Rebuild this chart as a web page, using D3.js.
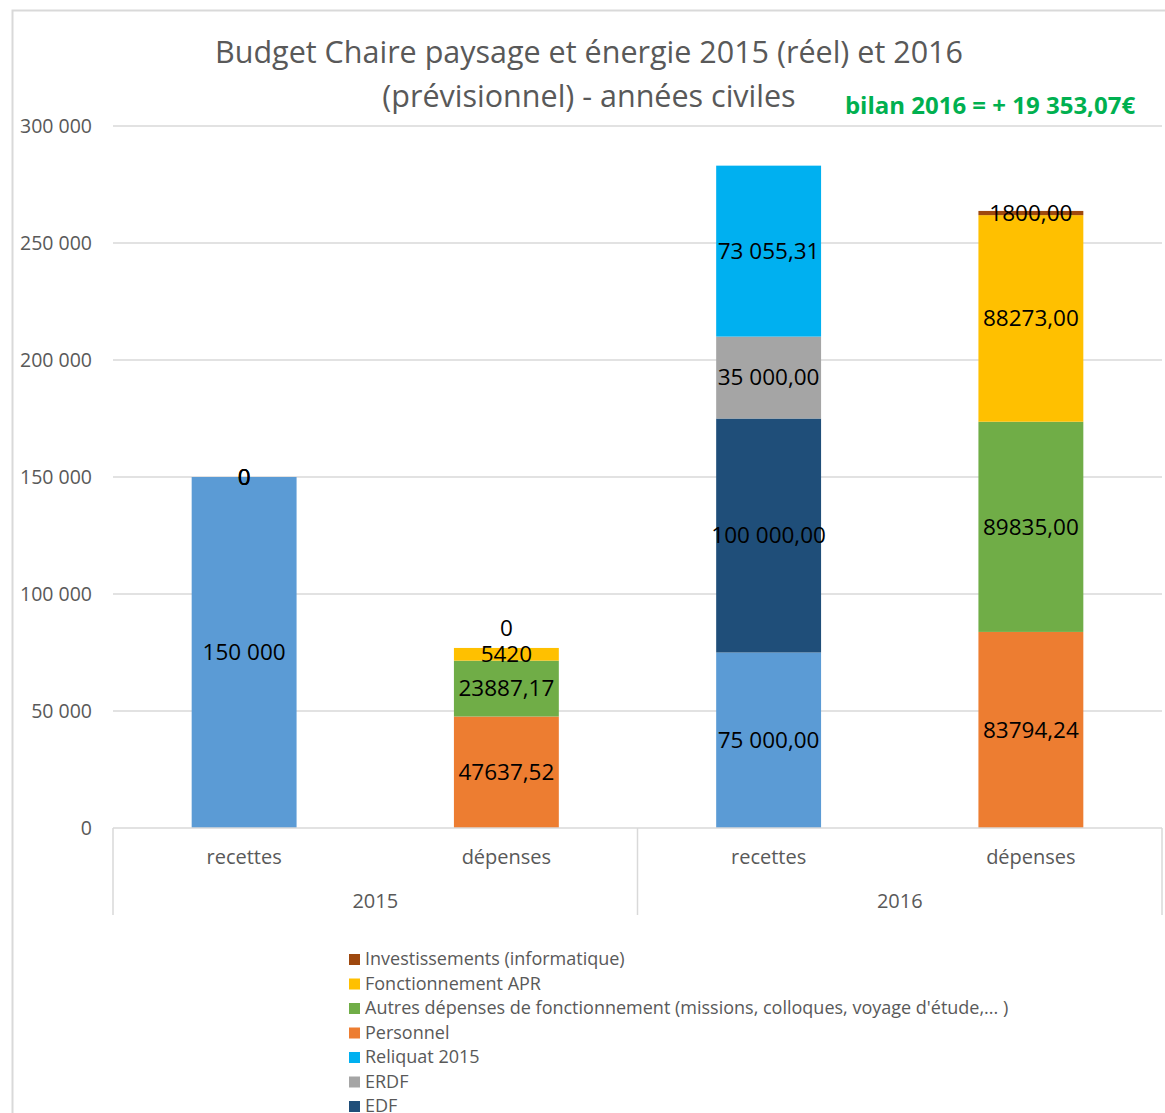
<!DOCTYPE html>
<html>
<head>
<meta charset="utf-8">
<script src="https://cdn.jsdelivr.net/npm/d3@7"></script>
<style>
  body { margin: 0; background: #fff; }
  svg { font-family: "Open Sans", Lato, sans-serif; }
</style>
</head>
<body>
<svg width="1165" height="1113"></svg>
<script>
// categories (two-level axis)
const columns = ["recettes", "dépenses", "recettes", "dépenses"];
const years = ["2015", "2016"];
const columnYear = ["2015", "2015", "2016", "2016"];

// series, bottom to top of the stack; one value per column
const seriesNames = [
  "Ministère",
  "EDF",
  "ERDF",
  "Reliquat 2015",
  "Personnel",
  "Autres dépenses de fonctionnement (missions, colloques, voyage d'étude,... )",
  "Fonctionnement APR",
  "Investissements (informatique)"
];
const seriesColors = ["#5B9BD5", "#1F4E79", "#A5A5A5", "#00B0F0", "#ED7D31", "#70AD47", "#FFC000", "#9E480E"];
const ministere = [150000, null, 75000, null];
const edf = [0, null, 100000, null];
const erdf = [0, null, 35000, null];
const reliquat = [0, null, 73055.31, null];
const personnel = [null, 47637.52, null, 83794.24];
const autres = [null, 23887.17, null, 89835];
const fonctionnementAPR = [null, 5420, null, 88273];
const investissements = [null, 0, null, 1800];
const seriesValues = [ministere, edf, erdf, reliquat, personnel, autres, fonctionnementAPR, investissements];

const yTicks = [0, 50000, 100000, 150000, 200000, 250000, 300000];
const titleLines = ["Budget Chaire paysage et énergie 2015 (réel) et 2016", "(prévisionnel) - années civiles"];
const bilanText = "bilan 2016 = + 19 353,07€";

const svg = d3.select("svg");
const grey = "#595959";
const margin = { top: 126, left: 113, right: 3, bottom: 285 };
const width = +svg.attr("width");
const height = +svg.attr("height");

const fr = d3.formatLocale({ decimal: ",", thousands: " ", grouping: [3], currency: ["", "€"] });
// number formats of the data labels, one per column
const labelFormats = [
  fr.format(",.0f"),
  v => Number.isInteger(v) ? fr.format(".0f")(v) : fr.format(".2f")(v),
  fr.format(",.2f"),
  fr.format(".2f")
];

// chart frame
svg.append("rect")
  .attr("x", 12.5).attr("y", 10.5)
  .attr("width", width).attr("height", height)
  .attr("fill", "none").attr("stroke", "#D9D9D9").attr("stroke-width", 2);

const x = d3.scaleBand()
  .domain(d3.range(columns.length))
  .range([margin.left, width - margin.right])
  .paddingInner(0.6).paddingOuter(0.3);
const xYear = d3.scaleBand()
  .domain(years)
  .range([margin.left, width - margin.right]);
const y = d3.scaleLinear()
  .domain([0, 300000])
  .range([height - margin.bottom, margin.top]);

// gridlines + y labels
svg.append("g")
  .selectAll("line")
  .data(yTicks.filter(d => d > 0))
  .join("line")
  .attr("x1", margin.left).attr("x2", width - margin.right)
  .attr("y1", d => y(d)).attr("y2", d => y(d))
  .attr("stroke", "#D9D9D9").attr("stroke-width", 1.5);

svg.append("g")
  .selectAll("text")
  .data(yTicks)
  .join("text")
  .attr("x", 92).attr("y", d => y(d))
  .attr("dy", "0.35em")
  .attr("text-anchor", "end")
  .attr("font-size", 19.5).attr("fill", grey)
  .text(d => fr.format(",.0f")(d));

// stacked bars
const table = columns.map((c, i) => {
  const row = { i };
  seriesNames.forEach((s, k) => { row[s] = seriesValues[k][i] || 0; });
  return row;
});
const stack = d3.stack().keys(seriesNames)(table);

const layers = svg.append("g")
  .selectAll("g")
  .data(stack)
  .join("g")
  .attr("fill", (d, k) => seriesColors[k]);

layers.selectAll("rect")
  .data(d => d.filter(p => p[1] > p[0]))
  .join("rect")
  .attr("x", p => x(p.data.i))
  .attr("width", x.bandwidth())
  .attr("y", p => y(p[1]))
  .attr("height", p => y(p[0]) - y(p[1]));

// data labels
const labels = [];
stack.forEach((layer, k) => {
  layer.forEach((p, i) => {
    const v = seriesValues[k][i];
    if (v === null) return;
    labels.push({ v, i, mid: (p[0] + p[1]) / 2, lift: v === 0 && columns[i] === "dépenses" });
  });
});
svg.append("g")
  .selectAll("text")
  .data(labels)
  .join("text")
  .attr("x", d => x(d.i) + x.bandwidth() / 2)
  .attr("y", d => y(d.mid) - (d.lift ? 20 : 0))
  .attr("dy", "0.35em")
  .attr("text-anchor", "middle")
  .attr("font-size", 22.5).attr("fill", "#000")
  .text(d => labelFormats[d.i](d.v));

// x axis (two levels)
const axisY = y(0);
const axis = svg.append("g").attr("stroke", "#D9D9D9").attr("stroke-width", 1.5);
axis.append("line")
  .attr("x1", margin.left).attr("x2", width - margin.right)
  .attr("y1", axisY).attr("y2", axisY);
axis.selectAll("line.sep")
  .data([...years.map(yr => xYear(yr)), width - margin.right])
  .join("line")
  .attr("class", "sep")
  .attr("x1", d => d).attr("x2", d => d)
  .attr("y1", axisY).attr("y2", axisY + 87);

svg.append("g")
  .selectAll("text")
  .data(columns)
  .join("text")
  .attr("x", (d, i) => x(i) + x.bandwidth() / 2)
  .attr("y", axisY + 36)
  .attr("text-anchor", "middle")
  .attr("font-size", 20).attr("fill", grey)
  .text(d => d);

svg.append("g")
  .selectAll("text")
  .data(years)
  .join("text")
  .attr("x", d => xYear(d) + xYear.bandwidth() / 2)
  .attr("y", axisY + 80)
  .attr("text-anchor", "middle")
  .attr("font-size", 20).attr("fill", grey)
  .text(d => d);

// title
svg.append("g")
  .selectAll("text")
  .data(titleLines)
  .join("text")
  .attr("x", 589)
  .attr("y", (d, i) => 63 + i * 44)
  .attr("text-anchor", "middle")
  .attr("font-size", 30.5).attr("fill", grey)
  .text(d => d);

svg.append("text")
  .attr("x", 990).attr("y", 114)
  .attr("text-anchor", "middle")
  .attr("font-size", 24).attr("font-weight", "bold")
  .attr("fill", "#00B050")
  .text(bilanText);

// legend (top-most series first)
const legendOrder = d3.range(seriesNames.length).reverse();
const legend = svg.append("g")
  .selectAll("g")
  .data(legendOrder)
  .join("g")
  .attr("transform", (k, j) => `translate(349,${959 + j * 24.5})`);
legend.append("rect")
  .attr("y", -5).attr("width", 11).attr("height", 11)
  .attr("fill", k => seriesColors[k]);
legend.append("text")
  .attr("x", 16).attr("dy", "0.35em")
  .attr("font-size", 18).attr("fill", grey)
  .text(k => seriesNames[k]);
</script>
</body>
</html>
